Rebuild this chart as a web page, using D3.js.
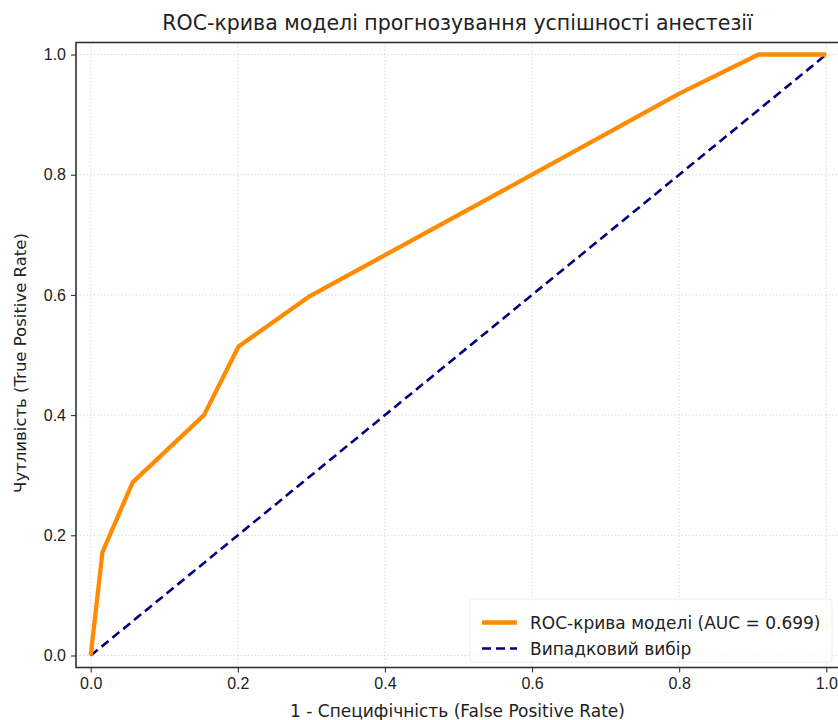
<!DOCTYPE html>
<html>
<head>
<meta charset="utf-8">
<script src="https://cdn.jsdelivr.net/npm/d3@7"></script>
<style>
  body { margin: 0; background: #fff; }
  svg { font-family: "DejaVu Sans", sans-serif; }
</style>
</head>
<body>
<svg id="chart" width="838" height="720"></svg>
<script>
// ROC-Kurve
const fpr = [0, 0.016, 0.057, 0.154, 0.201, 0.298, 0.6, 0.8, 0.908, 1.0];
const tpr = [0, 0.172, 0.288, 0.40, 0.514, 0.598, 0.80, 0.935, 1.0, 1.0];
const diagX = [0, 1];
const diagY = [0, 1];
const ticks = [0, 0.2, 0.4, 0.6, 0.8, 1.0];

const titleText = "ROC-крива моделі прогнозування успішності анестезії";
const xLabel = "1 - Специфічність (False Positive Rate)";
const yLabel = "Чутливість (True Positive Rate)";
const legendLabels = ["ROC-крива моделі (AUC = 0.699)", "Випадковий вибір"];

const svg = d3.select("#chart");

const mLeft = 76, mTop = 42.5, plotW = 765, plotH = 625;

const x = d3.scaleLinear().domain([-0.02, 1.02]).range([mLeft, mLeft + plotW]);
const y = d3.scaleLinear().domain([-0.02, 1.02]).range([mTop + plotH, mTop]);

// Gitter
const grid = svg.append("g");
grid.selectAll(".gx").data(ticks).enter().append("line")
  .attr("x1", d => x(d)).attr("x2", d => x(d))
  .attr("y1", mTop).attr("y2", mTop + plotH)
  .attr("stroke", "#d0d0d0").attr("stroke-width", 0.8)
  .attr("stroke-dasharray", "1.5,2");
grid.selectAll(".gy").data(ticks).enter().append("line")
  .attr("y1", d => y(d)).attr("y2", d => y(d))
  .attr("x1", mLeft).attr("x2", mLeft + plotW)
  .attr("stroke", "#d0d0d0").attr("stroke-width", 0.8)
  .attr("stroke-dasharray", "1.5,2");

const line = d3.line().x(d => x(d[0])).y(d => y(d[1]));

// Diagonale
svg.append("path")
  .datum(d3.zip(diagX, diagY))
  .attr("d", line)
  .attr("fill", "none")
  .attr("stroke", "#000080")
  .attr("stroke-width", 2.6)
  .attr("stroke-dasharray", "9,5");

// ROC
svg.append("path")
  .datum(d3.zip(fpr, tpr))
  .attr("d", line)
  .attr("fill", "none")
  .attr("stroke", "#ff8c00")
  .attr("stroke-width", 4.3)
  .attr("stroke-linejoin", "round");

// Achsen
const xAxis = svg.append("g")
  .attr("transform", `translate(0,${mTop + plotH})`)
  .call(d3.axisBottom(x).tickValues(ticks).tickFormat(d3.format(".1f")).tickSizeOuter(0).tickSize(5).tickPadding(5));
const yAxis = svg.append("g")
  .attr("transform", `translate(${mLeft},0)`)
  .call(d3.axisLeft(y).tickValues(ticks).tickFormat(d3.format(".1f")).tickSizeOuter(0).tickSize(5).tickPadding(5));

[xAxis, yAxis].forEach(a => {
  a.select(".domain").remove();
  a.selectAll("line").attr("stroke", "#333").attr("stroke-width", 1.1);
  a.selectAll("text").attr("fill", "#222").style("font-size", "16px");
});

// Rahmen
svg.append("rect")
  .attr("x", mLeft).attr("y", mTop)
  .attr("width", plotW).attr("height", plotH)
  .attr("fill", "none")
  .attr("stroke", "#333").attr("stroke-width", 1.6);

// Titel & Beschriftungen
svg.append("text")
  .attr("x", mLeft + plotW / 2 - 1).attr("y", 30)
  .attr("text-anchor", "middle")
  .attr("fill", "#222")
  .style("font-size", "20.5px")
  .text(titleText);

svg.append("text")
  .attr("x", mLeft + plotW / 2 - 1).attr("y", 717)
  .attr("text-anchor", "middle")
  .attr("fill", "#222")
  .style("font-size", "17px")
  .text(xLabel);

svg.append("text")
  .attr("transform", `translate(26,${mTop + plotH / 2 + 8}) rotate(-90)`)
  .attr("text-anchor", "middle")
  .attr("fill", "#222")
  .style("font-size", "16.5px")
  .text(yLabel);

// Legende
const legend = svg.append("g").attr("transform", "translate(470,599)");
legend.append("rect")
  .attr("width", 362).attr("height", 63).attr("rx", 3)
  .attr("fill", "#fff").attr("fill-opacity", 0.8)
  .attr("stroke", "#ececec");
const rows = [
  { color: "#ff8c00", width: 4.3, dash: null },
  { color: "#000080", width: 2.6, dash: "9,5" }
];
rows.forEach((r, i) => {
  const g = legend.append("g").attr("transform", `translate(0,${23.5 + i * 26})`);
  g.append("line").attr("x1", 12).attr("x2", 47)
    .attr("stroke", r.color).attr("stroke-width", r.width)
    .attr("stroke-dasharray", r.dash);
  g.append("text").attr("x", 60).attr("y", 6)
    .attr("fill", "#222").style("font-size", "17px")
    .text(legendLabels[i]);
});
</script>
</body>
</html>
